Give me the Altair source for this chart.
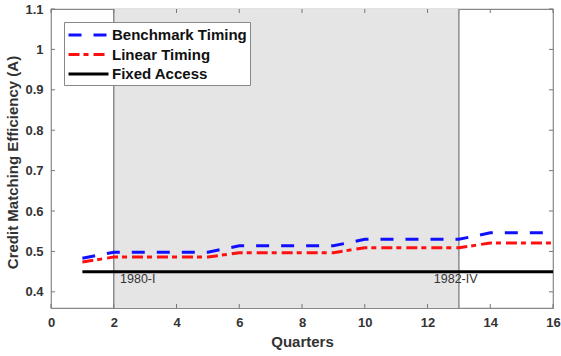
import altair as alt
import pandas as pd

quarters = list(range(1, 17))
benchmark = [0.483, 0.498, 0.498, 0.498, 0.498, 0.514, 0.514, 0.514, 0.514,
             0.530, 0.530, 0.530, 0.530, 0.546, 0.546, 0.546]
linear = [0.474, 0.486, 0.486, 0.486, 0.486, 0.497, 0.497, 0.497, 0.497,
          0.509, 0.509, 0.509, 0.509, 0.521, 0.521, 0.521]
fixed = [0.45] * 16
series_names = ["Benchmark Timing", "Linear Timing", "Fixed Access"]
shade_start, shade_end = 2, 13
annotations = ["1980-I", "1982-IV"]
ann_x = [2.2, 12.2]
ann_y = [0.431, 0.431]
x_ticks = list(range(0, 17, 2))
y_ticks = [0.4, 0.5, 0.6, 0.7, 0.8, 0.9, 1.0, 1.1]

W, H = 502, 299
FONT = "Liberation Sans"

rows = []
for name, vals in zip(series_names, [benchmark, linear, fixed]):
    for q, v in zip(quarters, vals):
        rows.append({"q": q, "v": v, "series": name})
df = pd.DataFrame(rows)

xs = alt.Scale(domain=[0, 16], nice=False)
ys = alt.Scale(domain=[0.36, 1.1], nice=False)

shade = alt.Chart(pd.DataFrame({"a": [shade_start], "b": [shade_end]})).mark_rect(
    color="#e5e5e5").encode(x=alt.X("a:Q", scale=xs), x2="b:Q")
vlines = alt.Chart(pd.DataFrame({"a": [shade_start, shade_end]})).mark_rule(
    color="#8c8c8c", strokeWidth=1.5).encode(x=alt.X("a:Q", scale=xs))

lines = alt.Chart(df).mark_line(strokeWidth=3).encode(
    x=alt.X("q:Q", scale=xs, title="Quarters",
            axis=alt.Axis(values=x_ticks, ticks=False, domain=False, grid=False, labelFlush=False,
                          labelFontSize=13, labelFontWeight="bold", labelColor="#333",
                          labelPadding=8, titleFontSize=15, titleFontWeight="bold",
                          titleColor="#333", titlePadding=5, labelFont=FONT, titleFont=FONT)),
    y=alt.Y("v:Q", scale=ys, title="Credit Matching Efficiency (A)",
            axis=alt.Axis(values=y_ticks, ticks=False, domain=False, grid=False, format=".1~f",
                          labelFlush=False,
                          labelFontSize=13, labelFontWeight="bold", labelColor="#333",
                          labelPadding=8, titleFontSize=15, titleFontWeight="bold",
                          titleColor="#333", titlePadding=4, titleY=153,
                          labelFont=FONT, titleFont=FONT)),
    color=alt.Color("series:N", scale=alt.Scale(domain=series_names,
                                                range=["#1010ff", "#ff1010", "#000000"]),
                    legend=alt.Legend(title=None, orient="none", legendX=13, legendY=13,
                                      fillColor="white", strokeColor="#888", padding=2.5,
                                      labelFontSize=15, labelFontWeight="bold", labelFont=FONT,
                                      labelColor="#111", symbolType="M-2.27,0H2.27",
                                      symbolStrokeWidth=3, symbolSize=310, rowPadding=0.5,
                                      symbolOffset=11.5, labelOffset=13)),
    strokeDash=alt.StrokeDash("series:N", scale=alt.Scale(domain=series_names,
                                                          range=[[13, 12], [11, 4, 5, 5], [1, 0]]),
                              legend=alt.Legend(title=None)),
)

texts = alt.Chart(pd.DataFrame({"t": annotations, "x": ann_x, "y": ann_y})).mark_text(
    align="left", baseline="middle", fontSize=12.5, font=FONT, color="#333").encode(
    x=alt.X("x:Q", scale=xs), y=alt.Y("y:Q", scale=ys), text="t:N")

xt = pd.DataFrame({"x": x_ticks})
yt = pd.DataFrame({"y": y_ticks})
tick_color = "#777"
xtb = alt.Chart(xt).mark_rule(color=tick_color).encode(
    x=alt.X("x:Q", scale=xs), y=alt.value(H), y2=alt.value(H - 4))
xtt = alt.Chart(xt).mark_rule(color=tick_color).encode(
    x=alt.X("x:Q", scale=xs), y=alt.value(0), y2=alt.value(4))
ytl = alt.Chart(yt).mark_rule(color=tick_color).encode(
    y=alt.Y("y:Q", scale=ys), x=alt.value(0), x2=alt.value(4))
ytr = alt.Chart(yt).mark_rule(color=tick_color).encode(
    y=alt.Y("y:Q", scale=ys), x=alt.value(W), x2=alt.value(W - 4))

chart = alt.layer(shade, vlines, lines, texts, xtb, xtt, ytl, ytr).properties(
    width=W, height=H, autosize=alt.AutoSizeParams(type="none"),
    padding={"left": 51, "top": 9, "right": 8, "bottom": 48},
    background="white",
).configure_view(stroke="#888", strokeWidth=1.2)

chart.save("out.html", embed_options={"renderer": "svg", "actions": False})
